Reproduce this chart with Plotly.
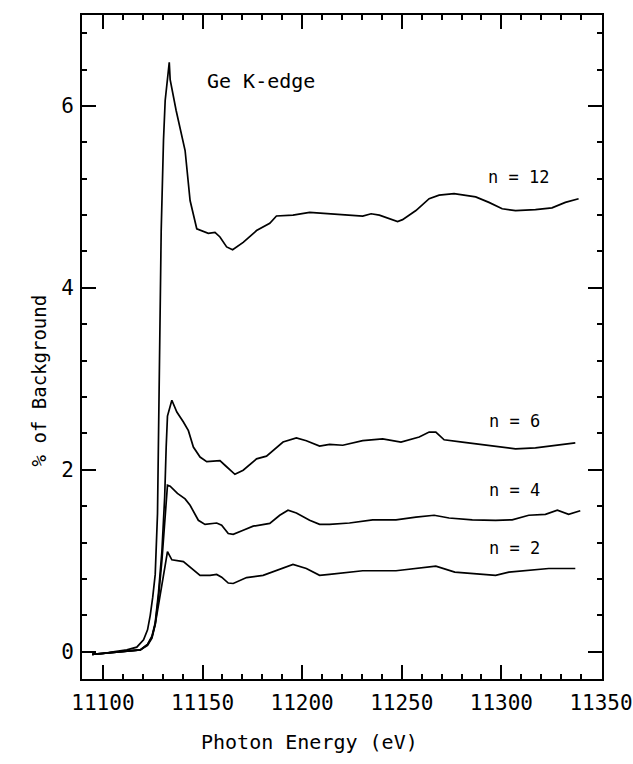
import plotly.graph_objects as go

# ---- data ----
x_n12 = [11094.6, 11100, 11106, 11112, 11117, 11120.4, 11122.4, 11123.75, 11125.0, 11126.25, 11127.4,
         11128.3, 11129.25, 11130.4, 11131.25, 11133.3, 11133.75, 11136.75, 11141.25, 11143.75, 11147.1,
         11152.9, 11156.25, 11158.75, 11162.1, 11165.1, 11170.4, 11177.1, 11183.75, 11187.1, 11195.4,
         11203.75, 11213.75, 11230.4, 11234.6, 11238.75, 11247.9, 11250.4, 11257.1, 11263.75, 11268.75,
         11276.25, 11287.1, 11293.75, 11300.4, 11307.1, 11317.1, 11325.4, 11332.1, 11338.75]
y_n12 = [-0.03, -0.02, 0.0, 0.02, 0.05, 0.13, 0.24, 0.40, 0.60, 0.85, 1.52,
         2.98, 4.63, 5.62, 6.06, 6.48, 6.29, 5.95, 5.51, 4.96, 4.65,
         4.60, 4.61, 4.56, 4.45, 4.42, 4.50, 4.63, 4.71, 4.79, 4.80,
         4.83, 4.815, 4.79, 4.815, 4.80, 4.73, 4.75, 4.85, 4.98, 5.02,
         5.035, 5.00, 4.94, 4.87, 4.85, 4.86, 4.88, 4.94, 4.98]

x_n6 = [11094.6, 11100, 11106, 11112, 11118.75, 11122.4, 11124.6, 11126.25, 11127.9, 11129.6, 11131.0,
        11131.75, 11132.4, 11134.6, 11137.1, 11140.4, 11142.9, 11145.4, 11148.75, 11152.1, 11158.75,
        11161.25, 11166.25, 11170.4, 11177.1, 11182.1, 11190.4, 11197.1, 11202.1, 11208.75, 11213.75,
        11220.4, 11230.4, 11240.4, 11249.6, 11258.75, 11263.75, 11267.1, 11271.25, 11280.4, 11290.4,
        11300.4, 11307.1, 11317.1, 11327.1, 11337.1]
y_n6 = [-0.03, -0.02, -0.01, 0.0, 0.02, 0.08, 0.17, 0.32, 0.65, 1.10, 1.70,
        2.25, 2.59, 2.765, 2.635, 2.525, 2.43, 2.25, 2.14, 2.09, 2.10,
        2.05, 1.95, 1.995, 2.12, 2.15, 2.305, 2.35, 2.32, 2.26, 2.28,
        2.27, 2.32, 2.34, 2.305, 2.36, 2.415, 2.415, 2.33, 2.305, 2.28,
        2.25, 2.23, 2.24, 2.27, 2.295]

x_n4 = [11094.6, 11100, 11106, 11112, 11118.75, 11122.4, 11124.6, 11126.25, 11127.9, 11129.6, 11131.25,
        11132.4, 11133.75, 11137.4, 11141.25, 11143.75, 11147.9, 11151.25, 11157.1, 11159.6, 11162.9,
        11165.4, 11170.4, 11175.4, 11183.75, 11188.75, 11192.9, 11197.1, 11203.75, 11208.75, 11213.75,
        11223.75, 11235.4, 11247.1, 11257.1, 11266.25, 11273.75, 11285.4, 11297.1, 11305.4, 11313.75,
        11322.1, 11328.1, 11333.75, 11339.6]
y_n4 = [-0.03, -0.02, -0.01, 0.0, 0.02, 0.08, 0.16, 0.30, 0.60, 1.00, 1.50,
        1.83, 1.82, 1.74, 1.68, 1.61, 1.445, 1.40, 1.415, 1.39, 1.30,
        1.29, 1.335, 1.38, 1.41, 1.50, 1.555, 1.525, 1.445, 1.40, 1.40,
        1.415, 1.45, 1.45, 1.48, 1.50, 1.47, 1.45, 1.445, 1.45, 1.50,
        1.51, 1.555, 1.51, 1.55]

x_n2 = [11094.6, 11100, 11106, 11112, 11118.75, 11122.4, 11124.6, 11126.25, 11127.9, 11129.6, 11131.25,
        11132.4, 11134.6, 11140.4, 11143.75, 11148.75, 11153.75, 11157.1, 11159.6, 11162.9, 11165.4,
        11172.1, 11180.4, 11187.1, 11195.4, 11202.1, 11208.75, 11213.75, 11230.4, 11247.1, 11258.75,
        11267.1, 11276.6, 11285.4, 11297.1, 11303.75, 11313.75, 11323.75, 11337.1]
y_n2 = [-0.03, -0.02, -0.01, 0.0, 0.02, 0.07, 0.15, 0.30, 0.50, 0.75, 0.95,
        1.10, 1.01, 0.99, 0.93, 0.84, 0.84, 0.85, 0.82, 0.755, 0.75,
        0.815, 0.84, 0.895, 0.96, 0.915, 0.84, 0.85, 0.89, 0.89, 0.92,
        0.94, 0.875, 0.86, 0.84, 0.875, 0.895, 0.915, 0.915]

series = [("n = 12", x_n12, y_n12), ("n = 6", x_n6, y_n6), ("n = 4", x_n4, y_n4), ("n = 2", x_n2, y_n2)]

label_texts = ["n = 12", "n = 6", "n = 4", "n = 2"]
label_x = [11308.75, 11306.75, 11306.75, 11306.75]
label_y = [5.22, 2.54, 1.775, 1.14]

title_text = "Ge K-edge"
title_x = 11151
title_y = 6.27

x_ticks = [11100, 11150, 11200, 11250, 11300, 11350]
y_ticks = [0, 2, 4, 6]

FONT = "DejaVu Sans Mono"

fig = go.Figure()
for name, xs, ys in series:
    fig.add_trace(go.Scatter(x=xs, y=ys, mode="lines", name=name,
                             line=dict(color="black", width=1.7), showlegend=False))

for t, lx, ly in zip(label_texts, label_x, label_y):
    fig.add_annotation(x=lx, y=ly, text=t, showarrow=False, xanchor="center", yanchor="middle",
                       font=dict(family=FONT, size=17, color="black"))

fig.add_annotation(x=title_x, y=title_y, text=title_text, showarrow=False, xanchor="left",
                   yanchor="middle", font=dict(family=FONT, size=20, color="black"))

fig.add_annotation(xref="paper", yref="paper", x=0.438, y=-0.095, text="Photon Energy (eV)",
                   showarrow=False, xanchor="center", yanchor="middle",
                   font=dict(family=FONT, size=20, color="black"))
fig.add_annotation(xref="paper", yref="paper", x=-0.065, y=0.45, text="% of Background",
                   showarrow=False, xanchor="center", yanchor="middle", textangle=-90,
                   xshift=-9, font=dict(family=FONT, size=19, color="black"))

axis_common = dict(showline=True, linecolor="black", linewidth=2, mirror="allticks",
                   ticks="inside", tickcolor="black", tickwidth=1.5, ticklen=14,
                   showgrid=False, zeroline=False, automargin=False,
                   tickfont=dict(family=FONT, size=21, color="black"))

fig.update_xaxes(range=[11089.5, 11350.5], tickvals=x_ticks, ticktext=[str(v) for v in x_ticks],
                 minor=dict(dtick=10, tick0=11100, ticks="inside", ticklen=5, tickcolor="black",
                            tickwidth=1.5, showgrid=False),
                 ticklabelstandoff=4, **axis_common)
fig.update_yaxes(range=[-0.3, 7.0], tickvals=y_ticks, ticktext=[str(v) for v in y_ticks],
                 minor=dict(dtick=0.4, tick0=0, ticks="inside", ticklen=5, tickcolor="black",
                            tickwidth=1.5, showgrid=False),
                 ticklabelstandoff=2, **axis_common)

fig.update_layout(width=633, height=764, margin=dict(l=82, r=31, t=15, b=85, autoexpand=False),
                  plot_bgcolor="white", paper_bgcolor="white")

fig.write_html("out.html")
